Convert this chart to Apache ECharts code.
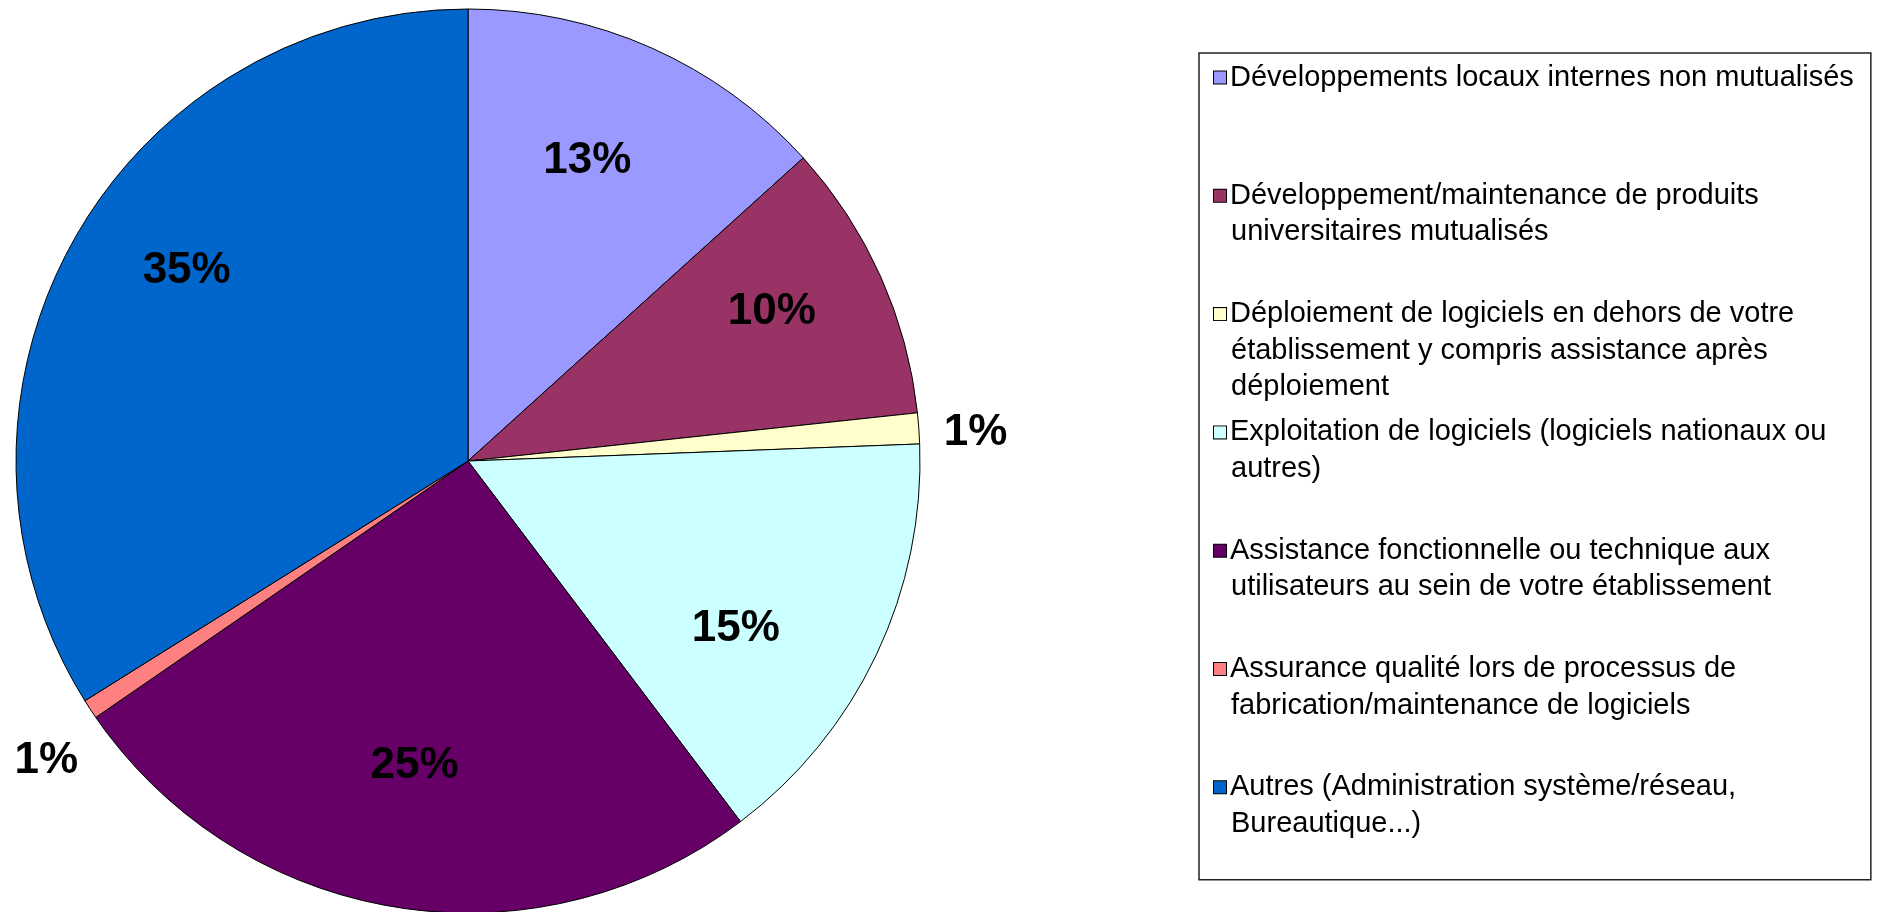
<!DOCTYPE html>
<html>
<head>
<meta charset="utf-8">
<script src="https://cdn.jsdelivr.net/npm/echarts@6/dist/echarts.min.js"></script>
<style>
html,body{margin:0;padding:0;background:#fff;}
#chart{width:1879px;height:912px;}
</style>
</head>
<body>
<div id="chart"></div>
<script>
const categories = [
  "Développements locaux internes non mutualisés",
  "Développement/maintenance de produits universitaires mutualisés",
  "Déploiement de logiciels en dehors de votre établissement y compris assistance après déploiement",
  "Exploitation de logiciels (logiciels nationaux ou autres)",
  "Assistance fonctionnelle ou technique aux utilisateurs au sein de votre établissement",
  "Assurance qualité lors de processus de fabrication/maintenance de logiciels",
  "Autres (Administration système/réseau, Bureautique...)"
];
const legendLines = [
  ["Développements locaux internes non mutualisés"],
  ["Développement/maintenance de produits", "universitaires mutualisés"],
  ["Déploiement de logiciels en dehors de votre", "établissement y compris assistance après", "déploiement"],
  ["Exploitation de logiciels (logiciels nationaux ou", "autres)"],
  ["Assistance fonctionnelle ou technique aux", "utilisateurs au sein de votre établissement"],
  ["Assurance qualité lors de processus de", "fabrication/maintenance de logiciels"],
  ["Autres (Administration système/réseau,", "Bureautique...)"]
];
const values = [13.3, 10.0, 1.1, 15.3, 25.7, 0.7, 33.9];
const pctLabels = ["13%", "10%", "1%", "15%", "25%", "1%", "35%"];
const colors = ["#9999FF", "#993366", "#FFFFCC", "#CCFFFF", "#660066", "#FF8080", "#0066CC"];

const FONT = "'Liberation Sans', Arial, sans-serif";
const R = 452;
const LH = 36.5;

const rich = {
  t: { fontSize: 29, lineHeight: LH, color: '#000', fontFamily: FONT },
  g: { width: 4, height: 13 },
  ind: { width: 17, height: 13 }
};
colors.forEach((c, i) => {
  rich['sq' + i] = { width: 12, height: 12, backgroundColor: c, borderColor: '#000', borderWidth: 1 };
});

// label nudges (style only, relative to library-computed positions)
const labelNudge = { 0: [-14, 0], 1: [4, -15], 2: [2, 6], 3: [-29, 27], 4: [-1, -19], 5: [8, 42], 6: [6, -31] };

const chart = echarts.init(document.getElementById('chart'), null, { renderer: 'canvas' });
chart.setOption({
  backgroundColor: '#ffffff',
  animation: false,
  legend: {
    orient: 'vertical',
    left: 1199,
    top: 53,
    itemWidth: 0,
    itemHeight: 0,
    itemGap: 16.3,
    padding: [10, 17, 5, 9],
    borderColor: '#222',
    borderWidth: 1.5,
    selectedMode: false,
    data: categories,
    textStyle: { rich: rich },
    formatter: function (name) {
      const i = categories.indexOf(name);
      const lines = legendLines[i].slice();
      while (lines.length < 3) lines.push(' ');
      return lines.map((l, k) => (k === 0 ? '{sq' + i + '|}{g|}' : '{ind|}') + '{t|' + l + '}').join('\n');
    }
  },
  series: [
    {
      type: 'pie',
      center: [468, 461],
      radius: R,
      startAngle: 90,
      clockwise: true,
      avoidLabelOverlap: false,
      emphasis: { disabled: true },
      itemStyle: { borderColor: '#000', borderWidth: 1 },
      label: {
        position: 'outside',
        formatter: p => pctLabels[p.dataIndex],
        fontSize: 44, fontWeight: 'bold', color: '#000', fontFamily: FONT
      },
      labelLine: { show: false, length: 18, length2: 0 },
      data: categories.map((n, i) => ({
        name: n, value: values[i],
        itemStyle: { color: colors[i] },
        label: { show: values[i] < 5, offset: labelNudge[i] }
      }))
    },
    {
      type: 'pie',
      center: [468, 461],
      radius: R * 1.44,
      startAngle: 90,
      clockwise: true,
      silent: true,
      avoidLabelOverlap: false,
      itemStyle: { color: 'rgba(0,0,0,0)', borderWidth: 0 },
      label: {
        position: 'inside',
        formatter: p => pctLabels[p.dataIndex],
        fontSize: 44, fontWeight: 'bold', color: '#000', fontFamily: FONT
      },
      labelLine: { show: false },
      data: categories.map((n, i) => ({
        name: n, value: values[i],
        label: { show: values[i] >= 5, offset: labelNudge[i] }
      }))
    }
  ]
});
</script>
</body>
</html>
